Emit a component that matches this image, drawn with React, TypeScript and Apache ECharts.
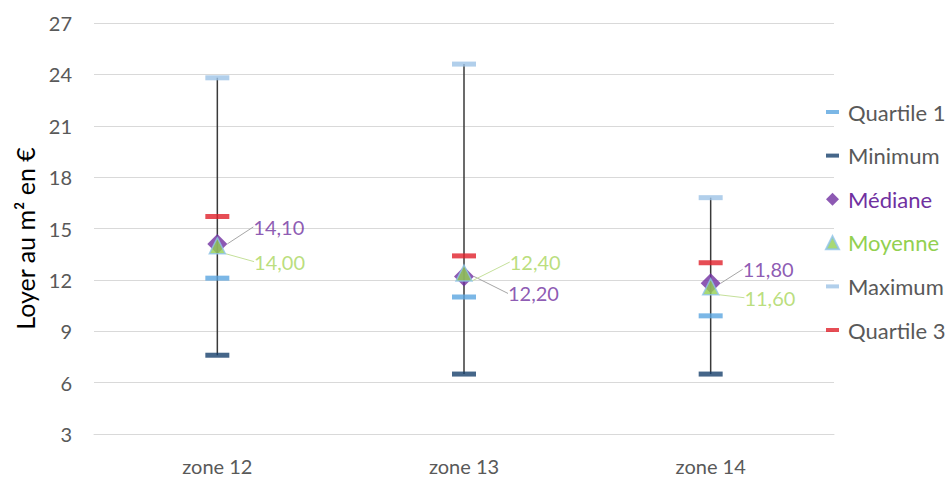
import React, { useEffect, useRef } from "react";
import * as echarts from "echarts";

const categories = ["zone 12", "zone 13", "zone 14"];
const minimum = [7.6, 6.5, 6.5];
const quartile1 = [12.1, 11.0, 9.9];
const mediane = [14.1, 12.2, 11.8];
const moyenne = [14.0, 12.4, 11.6];
const quartile3 = [15.7, 13.4, 13.0];
const maximum = [23.8, 24.6, 16.8];
const yTicks = [3, 6, 9, 12, 15, 18, 21, 24, 27];

// label displacement (style only)
const medianOffsets = [
  [18, -17],
  [26, 17],
  [14, -14],
];
const meanOffsets = [
  [20, 16],
  [29, -11],
  [17, 11],
];

const FONT = "Lato, 'Open Sans', sans-serif";
const fmt = (v: number) => v.toFixed(2).replace(".", ",");

export default function App() {
  const ref = useRef<HTMLDivElement>(null);
  useEffect(() => {
    document.body.style.margin = "0";
    if (!ref.current) return;
    const chart = echarts.init(ref.current, null, { renderer: "svg" });
    const capSize = [24, 5];
    const capSeries = (name: string, data: number[], color: string, z: number) => ({
      name,
      type: "scatter",
      data,
      symbol: "rect",
      symbolSize: capSize,
      itemStyle: { color },
      z,
    });
    const barIcon = "path://M0,0h13v4h-13z";
    chart.setOption({
      animation: false,
      backgroundColor: "#ffffff",
      textStyle: { fontFamily: FONT },
      grid: { left: 94, top: 23, width: 740, height: 411, containLabel: false },
      legend: {
        orient: "vertical",
        left: 820,
        top: 96,
        itemGap: 21.6,
        itemWidth: 13,
        itemHeight: 13,
        textStyle: { fontSize: 22, color: "#595959", fontFamily: FONT, padding: [0, 0, 0, 4] },
        data: [
          { name: "Quartile 1", icon: barIcon },
          { name: "Minimum", icon: barIcon },
          { name: "Médiane", icon: "diamond", textStyle: { color: "#7030a0" } },
          { name: "Moyenne", icon: "triangle", textStyle: { color: "#92d050" } },
          { name: "Maximum", icon: barIcon },
          { name: "Quartile 3", icon: barIcon },
        ],
      },
      xAxis: {
        type: "category",
        data: categories,
        axisLine: { show: true, lineStyle: { color: "#d9d9d9", width: 1 } },
        axisTick: { show: false },
        axisLabel: { color: "#595959", fontSize: 20, margin: 22, fontFamily: FONT },
      },
      yAxis: {
        type: "value",
        min: yTicks[0],
        max: yTicks[yTicks.length - 1],
        interval: 3,
        name: "Loyer au m² en €",
        nameLocation: "middle",
        nameRotate: 90,
        nameGap: 55,
        nameTextStyle: {
          color: "#000000",
          fontSize: 25,
          fontFamily: FONT,
          padding: [0, 20, 0, 0],
        },
        axisLine: { show: false },
        axisTick: { show: false },
        axisLabel: { color: "#595959", fontSize: 20, margin: 22, fontFamily: FONT },
        splitLine: { lineStyle: { color: "#d9d9d9", width: 1 } },
      },
      series: [
        {
          name: "whisker",
          type: "custom",
          data: categories.map((_, i) => [i, minimum[i], maximum[i]]),
          encode: { x: 0, y: [1, 2] },
          z: 1,
          renderItem: (params: any, api: any) => {
            const i = api.value(0);
            const p1 = api.coord([i, api.value(1)]);
            const p2 = api.coord([i, api.value(2)]);
            return {
              type: "line",
              shape: { x1: p1[0], y1: p1[1], x2: p2[0], y2: p2[1] },
              style: { stroke: "#3a3a3a", lineWidth: 1.5 },
            };
          },
        },
        capSeries("Quartile 1", quartile1, "#5aa5e0", 3),
        capSeries("Minimum", minimum, "#17406b", 3),
        {
          name: "Médiane",
          type: "scatter",
          data: mediane,
          symbol: "diamond",
          symbolSize: 20,
          itemStyle: { color: "#7030a0" },
          z: 4,
          label: {
            show: true,
            position: "right",
            distance: 8,
            formatter: (p: any) => fmt(p.value),
            color: "#7030a0",
            fontSize: 20,
            fontFamily: FONT,
          },
          labelLine: { show: true, lineStyle: { color: "#a6a6a6", width: 1 } },
          labelLayout: (p: any) => ({
            dx: medianOffsets[p.dataIndex][0],
            dy: medianOffsets[p.dataIndex][1],
          }),
        },
        {
          name: "Moyenne",
          type: "scatter",
          data: moyenne,
          symbol: "triangle",
          symbolSize: 16,
          itemStyle: { color: "#92d050", borderColor: "#8fc3ea", borderWidth: 1.5 },
          z: 5,
          label: {
            show: true,
            position: "right",
            distance: 8,
            formatter: (p: any) => fmt(p.value),
            color: "#a9d65c",
            fontSize: 20,
            fontFamily: FONT,
          },
          labelLine: { show: true, lineStyle: { color: "#c5e09a", width: 1 } },
          labelLayout: (p: any) => ({
            dx: meanOffsets[p.dataIndex][0],
            dy: meanOffsets[p.dataIndex][1],
          }),
        },
        capSeries("Maximum", maximum, "#9dc3e6", 3),
        capSeries("Quartile 3", quartile3, "#e0202a", 3),
      ],
    });
    return () => chart.dispose();
  }, []);
  return <div ref={ref} style={{ width: 948, height: 478 }} />;
}
